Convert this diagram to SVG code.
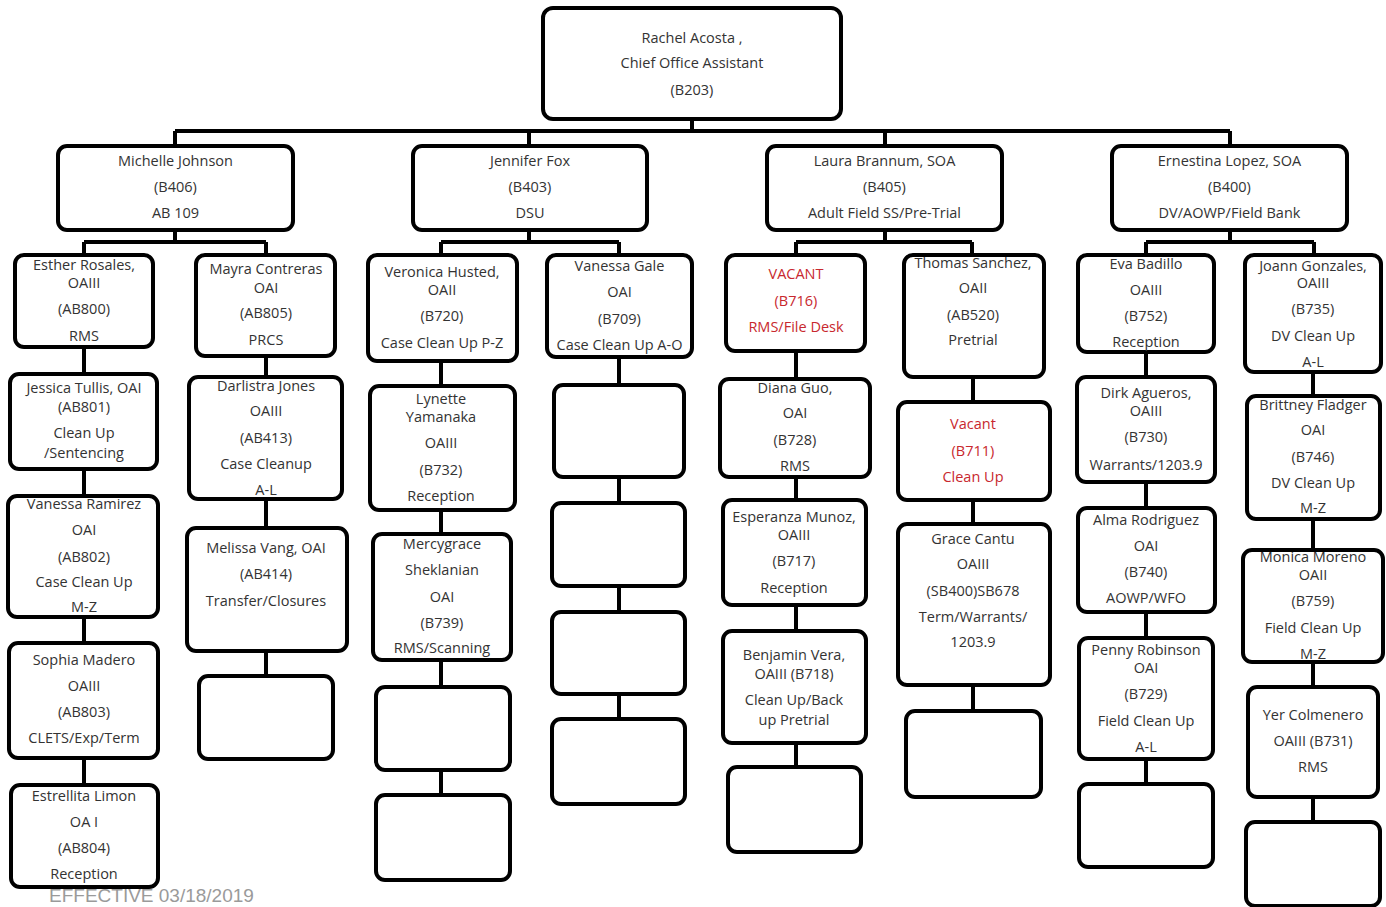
<svg xmlns="http://www.w3.org/2000/svg" width="1386" height="907" viewBox="0 0 1386 907">
<style>
.b{fill:#fff;stroke:#000;stroke-width:4}
.c{fill:none;stroke:#000;stroke-width:4}
text{font-family:"Open Sans","Liberation Sans",sans-serif;font-size:14.5px;fill:#333;text-anchor:middle}
.r{fill:#c8282e}
.f{font-family:"Liberation Sans",sans-serif;font-size:19px;fill:#9a9a9a;text-anchor:start}
</style>
<rect width="1386" height="907" fill="#fff"/>
<g id="connectors">
<path class="c" d="M692,119V131M175,131H1230M175,131V146M529,131V146M885,131V146M1230,131V146
M175,230V242M84,242H266M84,242V255M266,242V255
M529,230V242M441,242H619M441,242V255M619,242V255
M885,230V242M796,242H972M796,242V255M972,242V255
M1230,230V242M1146,242H1314M1146,242V255M1314,242V255
M84,347V374M84,469V496M84,617V643M84,758V785
M266,356V377M266,499V528M266,651V676
M441,361V386M441,510V534M441,660V687M441,770V795
M619,357V385M619,477V503M619,586V612M619,694V719
M796,351V379M796,477V500M796,605V631M796,743V767
M973,377V402M973,500V524M973,685V711
M1146,352V377M1146,482V508M1146,612V638M1146,759V784
M1313,372V396M1313,519V550M1313,662V687M1313,797V822"/>
</g>
<g id="root"><rect class="b" x="543" y="8" width="298" height="111" rx="10"/>
<text x="692" y="43">Rachel Acosta ,</text><text x="692" y="68">Chief Office Assistant</text><text x="692" y="95">(B203)</text></g>
<g id="michelle"><rect class="b" x="58" y="146" width="235" height="84" rx="9"/>
<text x="175.5" y="166">Michelle Johnson</text><text x="175.5" y="192">(B406)</text><text x="175.5" y="218">AB 109</text></g>
<g id="jennifer"><rect class="b" x="413" y="146" width="234" height="84" rx="9"/>
<text x="530" y="166">Jennifer Fox</text><text x="530" y="192">(B403)</text><text x="530" y="218">DSU</text></g>
<g id="laura"><rect class="b" x="767" y="146" width="235" height="84" rx="9"/>
<text x="884.5" y="166">Laura Brannum, SOA</text><text x="884.5" y="192">(B405)</text><text x="884.5" y="218">Adult Field SS/Pre-Trial</text></g>
<g id="ernestina"><rect class="b" x="1112" y="146" width="235" height="84" rx="9"/>
<text x="1229.5" y="166">Ernestina Lopez, SOA</text><text x="1229.5" y="192">(B400)</text><text x="1229.5" y="218">DV/AOWP/Field Bank</text></g>

<g id="esther"><rect class="b" x="15" y="255" width="138" height="92" rx="9"/>
<text x="84" y="270">Esther Rosales,</text><text x="84" y="288">OAIII</text><text x="84" y="314">(AB800)</text><text x="84" y="341">RMS</text></g>
<g id="jessica"><rect class="b" x="10" y="374" width="147" height="95" rx="9"/>
<text x="84" y="393">Jessica Tullis, OAI</text><text x="84" y="412">(AB801)</text><text x="84" y="438">Clean Up</text><text x="84" y="458">/Sentencing</text></g>
<g id="vanessa-ramirez"><rect class="b" x="8" y="496" width="150" height="121" rx="9"/>
<text x="84" y="509">Vanessa Ramirez</text><text x="84" y="535">OAI</text><text x="84" y="562">(AB802)</text><text x="84" y="587">Case Clean Up</text><text x="84" y="612">M-Z</text></g>
<g id="sophia"><rect class="b" x="9" y="643" width="149" height="115" rx="9"/>
<text x="84" y="665">Sophia Madero</text><text x="84" y="691">OAIII</text><text x="84" y="717">(AB803)</text><text x="84" y="743">CLETS/Exp/Term</text></g>
<g id="estrellita"><rect class="b" x="11" y="785" width="147" height="102" rx="9"/>
<text x="84" y="801">Estrellita Limon</text><text x="84" y="827">OA I</text><text x="84" y="853">(AB804)</text><text x="84" y="879">Reception</text></g>

<g id="mayra"><rect class="b" x="196" y="255" width="139" height="101" rx="9"/>
<text x="266" y="274">Mayra Contreras</text><text x="266" y="293">OAI</text><text x="266" y="318">(AB805)</text><text x="266" y="345">PRCS</text></g>
<g id="darlistra"><rect class="b" x="189" y="377" width="153" height="122" rx="9"/>
<text x="266" y="391">Darlistra Jones</text><text x="266" y="416">OAIII</text><text x="266" y="443">(AB413)</text><text x="266" y="469">Case Cleanup</text><text x="266" y="495">A-L</text></g>
<g id="melissa"><rect class="b" x="187" y="528" width="160" height="123" rx="9"/>
<text x="266" y="553">Melissa Vang, OAI</text><text x="266" y="579">(AB414)</text><text x="266" y="606">Transfer/Closures</text></g>
<g id="blank-c2-1"><rect class="b" x="199" y="676" width="134" height="83" rx="9"/></g>

<g id="veronica"><rect class="b" x="368" y="255" width="149" height="106" rx="9"/>
<text x="442" y="277">Veronica Husted,</text><text x="442" y="295">OAII</text><text x="442" y="321">(B720)</text><text x="442" y="348">Case Clean Up P-Z</text></g>
<g id="lynette"><rect class="b" x="370" y="386" width="145" height="124" rx="9"/>
<text x="441" y="404">Lynette</text><text x="441" y="422">Yamanaka</text><text x="441" y="448">OAIII</text><text x="441" y="475">(B732)</text><text x="441" y="501">Reception</text></g>
<g id="mercygrace"><rect class="b" x="373" y="534" width="138" height="126" rx="9"/>
<text x="442" y="549">Mercygrace</text><text x="442" y="575">Sheklanian</text><text x="442" y="602">OAI</text><text x="442" y="628">(B739)</text><text x="442" y="653">RMS/Scanning</text></g>
<g id="blank-c3-1"><rect class="b" x="376" y="687" width="134" height="83" rx="9"/></g>
<g id="blank-c3-2"><rect class="b" x="376" y="795" width="134" height="85" rx="9"/></g>

<g id="vanessa-gale"><rect class="b" x="547" y="255" width="145" height="102" rx="9"/>
<text x="619.5" y="271">Vanessa Gale</text><text x="619.5" y="297">OAI</text><text x="619.5" y="324">(B709)</text><text x="619.5" y="350">Case Clean Up A-O</text></g>
<g id="blank-c4-1"><rect class="b" x="554" y="385" width="130" height="92" rx="9"/></g>
<g id="blank-c4-2"><rect class="b" x="552" y="503" width="133" height="83" rx="9"/></g>
<g id="blank-c4-3"><rect class="b" x="552" y="612" width="133" height="82" rx="9"/></g>
<g id="blank-c4-4"><rect class="b" x="552" y="719" width="133" height="85" rx="9"/></g>

<g id="vacant-b716"><rect class="b" x="726" y="255" width="139" height="96" rx="9"/>
<text class="r" x="796" y="279">VACANT</text><text class="r" x="796" y="306">(B716)</text><text class="r" x="796" y="332">RMS/File Desk</text></g>
<g id="diana"><rect class="b" x="720" y="379" width="150" height="98" rx="9"/>
<text x="795" y="393">Diana Guo,</text><text x="795" y="418">OAI</text><text x="795" y="445">(B728)</text><text x="795" y="471">RMS</text></g>
<g id="esperanza"><rect class="b" x="723" y="500" width="143" height="105" rx="9"/>
<text x="794" y="522">Esperanza Munoz,</text><text x="794" y="540">OAIII</text><text x="794" y="566">(B717)</text><text x="794" y="593">Reception</text></g>
<g id="benjamin"><rect class="b" x="723" y="631" width="143" height="112" rx="9"/>
<text x="794" y="660">Benjamin Vera,</text><text x="794" y="679">OAIII (B718)</text><text x="794" y="705">Clean Up/Back</text><text x="794" y="725">up Pretrial</text></g>
<g id="blank-c5-1"><rect class="b" x="728" y="767" width="133" height="85" rx="9"/></g>

<g id="thomas"><rect class="b" x="904" y="255" width="140" height="122" rx="9"/>
<text x="973" y="268">Thomas Sanchez,</text><text x="973" y="293">OAII</text><text x="973" y="320">(AB520)</text><text x="973" y="345">Pretrial</text></g>
<g id="vacant-b711"><rect class="b" x="898" y="402" width="152" height="98" rx="9"/>
<text class="r" x="973" y="429">Vacant</text><text class="r" x="973" y="456">(B711)</text><text class="r" x="973" y="482">Clean Up</text></g>
<g id="grace"><rect class="b" x="898" y="524" width="152" height="161" rx="9"/>
<text x="973" y="544">Grace Cantu</text><text x="973" y="569">OAIII</text><text x="973" y="596">(SB400)SB678</text><text x="973" y="622">Term/Warrants/</text><text x="973" y="647">1203.9</text></g>
<g id="blank-c6-1"><rect class="b" x="906" y="711" width="135" height="86" rx="9"/></g>

<g id="eva"><rect class="b" x="1078" y="255" width="136" height="97" rx="9"/>
<text x="1146" y="269">Eva Badillo</text><text x="1146" y="295">OAIII</text><text x="1146" y="321">(B752)</text><text x="1146" y="347">Reception</text></g>
<g id="dirk"><rect class="b" x="1077" y="377" width="138" height="105" rx="9"/>
<text x="1146" y="398">Dirk Agueros,</text><text x="1146" y="416">OAIII</text><text x="1146" y="442">(B730)</text><text x="1146" y="470">Warrants/1203.9</text></g>
<g id="alma"><rect class="b" x="1078" y="508" width="137" height="104" rx="9"/>
<text x="1146" y="525">Alma Rodriguez</text><text x="1146" y="551">OAI</text><text x="1146" y="577">(B740)</text><text x="1146" y="603">AOWP/WFO</text></g>
<g id="penny"><rect class="b" x="1079" y="638" width="134" height="121" rx="9"/>
<text x="1146" y="655">Penny Robinson</text><text x="1146" y="673">OAI</text><text x="1146" y="699">(B729)</text><text x="1146" y="726">Field Clean Up</text><text x="1146" y="752">A-L</text></g>
<g id="blank-c7-1"><rect class="b" x="1079" y="784" width="134" height="83" rx="9"/></g>

<g id="joann"><rect class="b" x="1245" y="255" width="136" height="117" rx="9"/>
<text x="1313" y="271">Joann Gonzales,</text><text x="1313" y="288">OAIII</text><text x="1313" y="314">(B735)</text><text x="1313" y="341">DV Clean Up</text><text x="1313" y="367">A-L</text></g>
<g id="brittney"><rect class="b" x="1247" y="396" width="133" height="123" rx="9"/>
<text x="1313" y="410">Brittney Fladger</text><text x="1313" y="435">OAI</text><text x="1313" y="462">(B746)</text><text x="1313" y="488">DV Clean Up</text><text x="1313" y="513">M-Z</text></g>
<g id="monica"><rect class="b" x="1243" y="550" width="140" height="112" rx="9"/>
<text x="1313" y="562">Monica Moreno</text><text x="1313" y="580">OAII</text><text x="1313" y="606">(B759)</text><text x="1313" y="633">Field Clean Up</text><text x="1313" y="659">M-Z</text></g>
<g id="yer"><rect class="b" x="1248" y="687" width="130" height="110" rx="9"/>
<text x="1313" y="720">Yer Colmenero</text><text x="1313" y="746">OAIII (B731)</text><text x="1313" y="772">RMS</text></g>
<g id="blank-c8-1"><rect class="b" x="1246" y="822" width="134" height="84" rx="9"/></g>

<text class="f" x="49" y="902">EFFECTIVE 03/18/2019</text>
</svg>
